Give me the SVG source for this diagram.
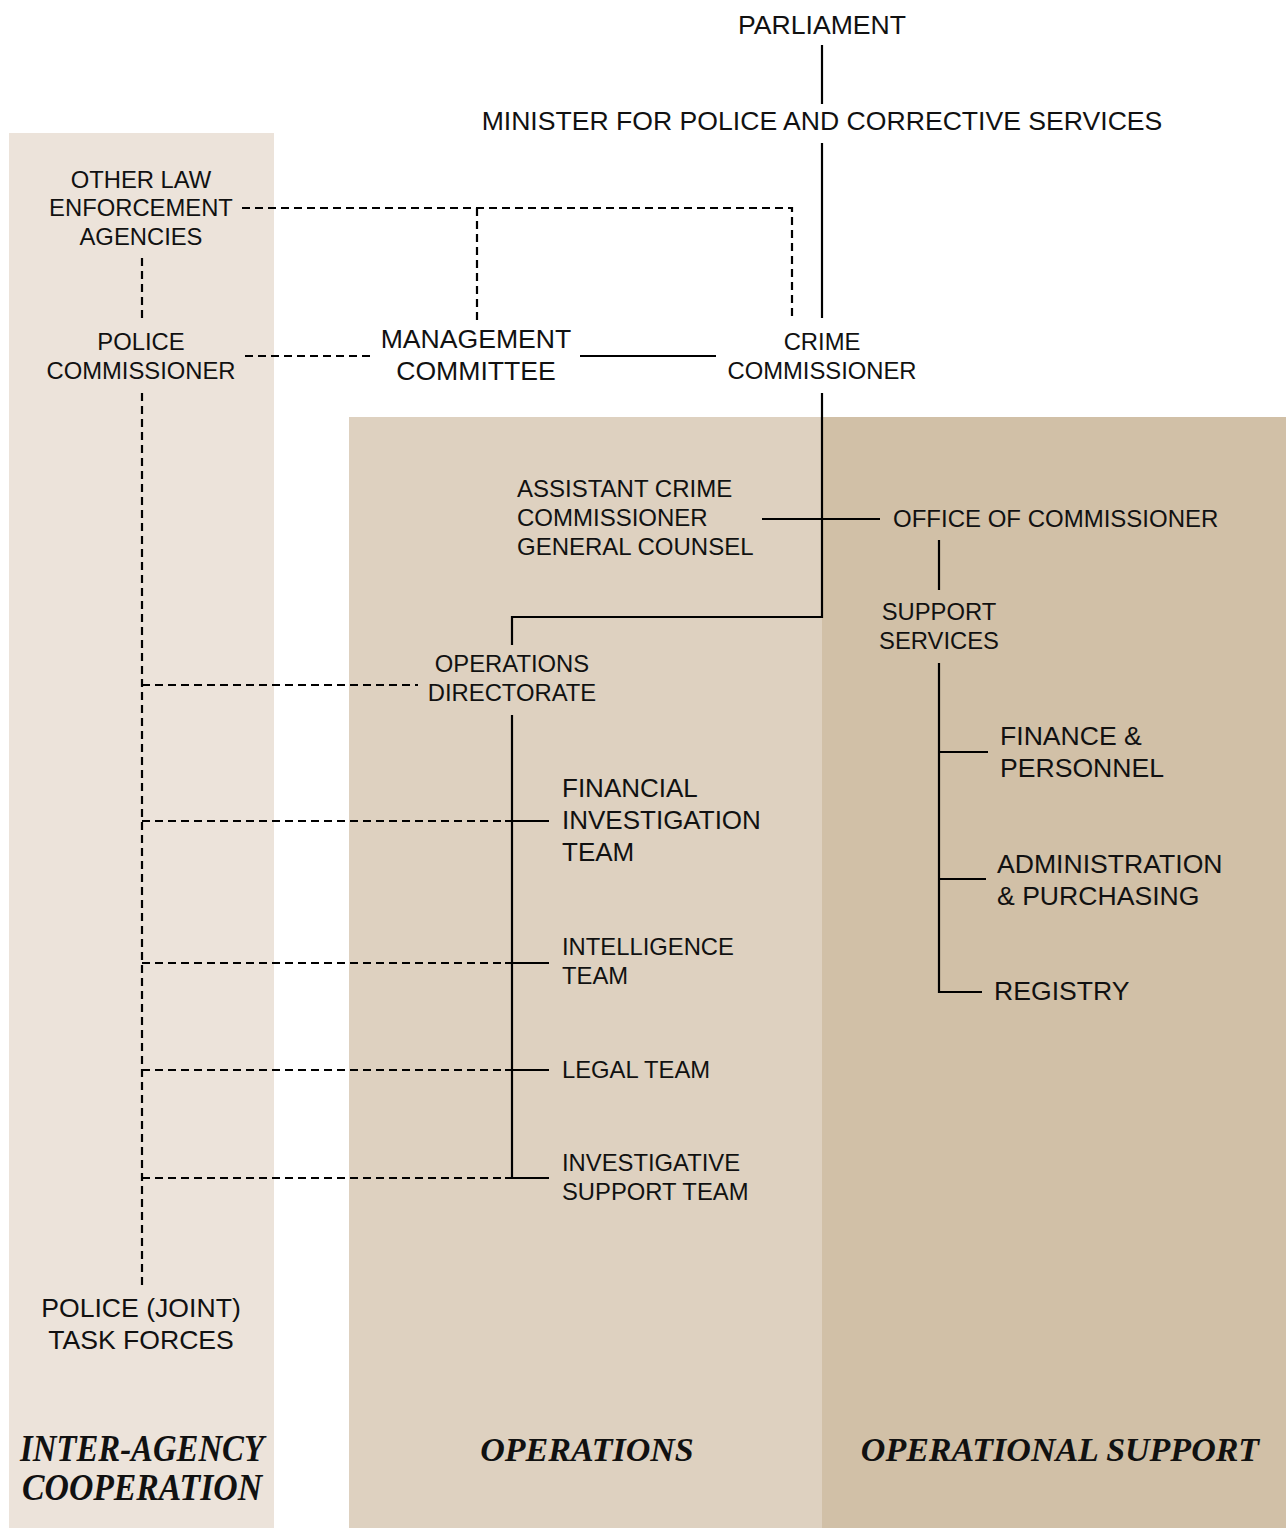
<svg xmlns="http://www.w3.org/2000/svg" width="1286" height="1528" viewBox="0 0 1286 1528">
<style>
text{font-family:"Liberation Sans",Arial,sans-serif;fill:#111;}
.s22{font-size:23.8px}
.s24{font-size:24px}
.s26{font-size:26.6px}
.s26b{font-size:26px}
.c{text-anchor:middle}
.sec{font-family:"Liberation Serif","Times New Roman",serif;font-weight:bold;font-style:italic;font-size:37px;text-anchor:middle}
.sec2{font-size:34px}
.solid{stroke:#000;stroke-width:2.2;fill:none}
.dash{stroke:#000;stroke-width:2.2;fill:none;stroke-dasharray:8 5}
</style>
<rect x="0" y="0" width="1286" height="1528" fill="#fff"/>
<g id="bands">
<rect x="9" y="133" width="265" height="1395" fill="#ece3da"/>
<rect x="349" y="417" width="473" height="1111" fill="#ded1c0"/>
<rect x="822" y="417" width="464" height="1111" fill="#d1c0a7"/>
</g>
<g id="connectors">
<line class="solid" x1="822" y1="45" x2="822" y2="104"/>
<line class="solid" x1="822" y1="143" x2="822" y2="318"/>
<polyline class="solid" points="822,393 822,617 512,617 512,645"/>
<line class="solid" x1="762" y1="519" x2="880" y2="519"/>
<line class="solid" x1="939" y1="540" x2="939" y2="590"/>
<polyline class="solid" points="939,663 939,992 982,992"/>
<line class="solid" x1="939" y1="752" x2="988" y2="752"/>
<line class="solid" x1="939" y1="879" x2="986" y2="879"/>
<line class="solid" x1="580" y1="356" x2="716" y2="356"/>
<line class="solid" x1="512" y1="715" x2="512" y2="1178"/>
<line class="solid" x1="505" y1="821" x2="549" y2="821"/>
<line class="solid" x1="505" y1="963" x2="549" y2="963"/>
<line class="solid" x1="505" y1="1070" x2="549" y2="1070"/>
<line class="solid" x1="505" y1="1178" x2="549" y2="1178"/>
<polyline class="dash" points="242,208 792,208 792,320"/>
<line class="dash" x1="477" y1="208" x2="477" y2="320"/>
<line class="dash" x1="142" y1="258" x2="142" y2="320"/>
<line class="dash" x1="245" y1="356" x2="374" y2="356"/>
<line class="dash" x1="142" y1="393" x2="142" y2="1290"/>
<line class="dash" x1="142" y1="685" x2="418" y2="685"/>
<line class="dash" x1="142" y1="821" x2="505" y2="821"/>
<line class="dash" x1="142" y1="963" x2="505" y2="963"/>
<line class="dash" x1="142" y1="1070" x2="505" y2="1070"/>
<line class="dash" x1="142" y1="1178" x2="505" y2="1178"/>
</g>
<g id="parliament"><text class="s26 c" x="822" y="34">PARLIAMENT</text></g>
<g id="minister"><text class="s26 c" x="822" y="130">MINISTER FOR POLICE AND CORRECTIVE SERVICES</text></g>
<g id="other-law"><text class="s22 c" x="141" y="188">OTHER LAW</text><text class="s22 c" x="141" y="216">ENFORCEMENT</text><text class="s22 c" x="141" y="245">AGENCIES</text></g>
<g id="police-commissioner"><text class="s22 c" x="141" y="350">POLICE</text><text class="s22 c" x="141" y="379">COMMISSIONER</text></g>
<g id="management-committee"><text class="s26 c" x="476" y="348">MANAGEMENT</text><text class="s26 c" x="476" y="380">COMMITTEE</text></g>
<g id="crime-commissioner"><text class="s22 c" x="822" y="350">CRIME</text><text class="s22 c" x="822" y="379">COMMISSIONER</text></g>
<g id="assistant"><text class="s24" x="517" y="497">ASSISTANT CRIME</text><text class="s24" x="517" y="526">COMMISSIONER</text><text class="s24" x="517" y="555">GENERAL COUNSEL</text></g>
<g id="office"><text class="s24" x="893" y="527">OFFICE OF COMMISSIONER</text></g>
<g id="support-services"><text class="s22 c" x="939" y="620">SUPPORT</text><text class="s22 c" x="939" y="649">SERVICES</text></g>
<g id="finance"><text class="s26" x="1000" y="745">FINANCE &amp;</text><text class="s26" x="1000" y="777">PERSONNEL</text></g>
<g id="administration"><text class="s26" x="997" y="873">ADMINISTRATION</text><text class="s26" x="997" y="905">&amp; PURCHASING</text></g>
<g id="registry"><text class="s26" x="994" y="1000">REGISTRY</text></g>
<g id="operations-directorate"><text class="s22 c" x="512" y="672">OPERATIONS</text><text class="s22 c" x="512" y="701">DIRECTORATE</text></g>
<g id="financial-investigation"><text class="s26b" x="562" y="797">FINANCIAL</text><text class="s26b" x="562" y="829">INVESTIGATION</text><text class="s26b" x="562" y="861">TEAM</text></g>
<g id="intelligence"><text class="s22" x="562" y="955">INTELLIGENCE</text><text class="s22" x="562" y="984">TEAM</text></g>
<g id="legal"><text class="s22" x="562" y="1078">LEGAL TEAM</text></g>
<g id="investigative-support"><text class="s22" x="562" y="1171">INVESTIGATIVE</text><text class="s22" x="562" y="1200">SUPPORT TEAM</text></g>
<g id="task-forces"><text class="s26 c" x="141" y="1317">POLICE (JOINT)</text><text class="s26 c" x="141" y="1349">TASK FORCES</text></g>
<g id="labels">
<text class="sec" x="142" y="1461" textLength="244" lengthAdjust="spacingAndGlyphs">INTER-AGENCY</text>
<text class="sec" x="142" y="1500" textLength="240" lengthAdjust="spacingAndGlyphs">COOPERATION</text>
<text class="sec sec2" x="587" y="1461">OPERATIONS</text>
<text class="sec sec2" x="1060" y="1461">OPERATIONAL SUPPORT</text>
</g>
</svg>
